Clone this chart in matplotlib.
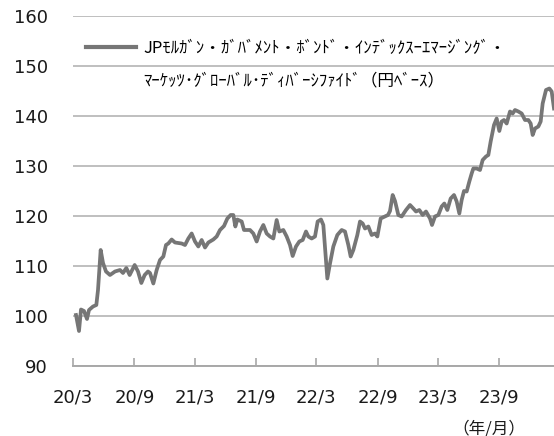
import numpy as np
import pandas as pd
import matplotlib
matplotlib.use('Agg')
import matplotlib.pyplot as plt
from matplotlib.lines import Line2D

# データ（グラフから読み取った概算値）
dates = [
    '2020-03-10', '2020-03-19', '2020-03-25', '2020-04-03', '2020-04-12', '2020-04-18',
    '2020-04-30', '2020-05-10', '2020-05-15', '2020-05-23', '2020-05-30', '2020-06-08',
    '2020-06-20', '2020-07-05', '2020-07-20', '2020-07-29', '2020-08-08', '2020-08-18',
    '2020-09-02', '2020-09-12', '2020-09-22', '2020-10-02', '2020-10-12', '2020-10-18',
    '2020-10-28', '2020-11-07', '2020-11-17', '2020-11-27', '2020-12-05', '2020-12-12',
    '2020-12-22', '2021-01-01', '2021-01-21', '2021-01-31', '2021-02-10', '2021-02-20',
    '2021-03-02', '2021-03-12', '2021-03-22', '2021-04-01', '2021-04-11', '2021-04-26',
    '2021-05-06', '2021-05-16', '2021-05-28', '2021-06-07', '2021-06-17', '2021-06-25',
    '2021-07-01', '2021-07-07', '2021-07-20', '2021-07-27', '2021-08-14', '2021-08-24',
    '2021-09-03', '2021-09-13', '2021-09-23', '2021-10-03', '2021-10-13', '2021-10-23',
    '2021-11-02', '2021-11-10', '2021-11-22', '2021-12-02', '2021-12-12', '2021-12-20',
    '2021-12-30', '2022-01-09', '2022-01-19', '2022-01-29', '2022-02-05', '2022-02-15',
    '2022-02-25', '2022-03-05', '2022-03-15', '2022-03-22', '2022-03-30', '2022-04-03',
    '2022-04-11', '2022-04-21', '2022-05-03', '2022-05-16', '2022-05-26', '2022-06-05',
    '2022-06-12', '2022-06-20', '2022-07-02', '2022-07-10', '2022-07-18', '2022-07-25',
    '2022-08-04', '2022-08-14', '2022-08-24', '2022-08-31', '2022-09-10', '2022-09-23',
    '2022-10-02', '2022-10-08', '2022-10-16', '2022-10-23', '2022-11-02', '2022-11-12',
    '2022-11-25', '2022-12-07', '2022-12-17', '2022-12-25', '2023-01-04', '2023-01-14',
    '2023-01-24', '2023-02-05', '2023-02-11', '2023-02-20', '2023-03-02', '2023-03-12',
    '2023-03-20', '2023-03-29', '2023-04-08', '2023-04-18', '2023-04-26', '2023-05-04',
    '2023-05-11', '2023-05-18', '2023-05-26', '2023-06-03', '2023-06-10', '2023-06-15',
    '2023-06-25', '2023-07-05', '2023-07-13', '2023-07-23', '2023-07-30', '2023-08-06',
    '2023-08-16', '2023-08-24', '2023-09-01', '2023-09-08', '2023-09-15', '2023-09-23',
    '2023-10-03', '2023-10-11', '2023-10-18', '2023-10-28', '2023-11-07', '2023-11-17',
    '2023-11-27', '2023-12-04', '2023-12-10', '2023-12-17', '2023-12-27', '2024-01-03',
    '2024-01-09', '2024-01-19', '2024-01-29', '2024-02-05', '2024-02-12',
]
values = [
    100.2, 97.0, 101.3, 101.0, 99.4, 101.2,
    101.9, 102.2, 105.2, 113.2, 110.6, 108.9,
    108.2, 108.9, 109.2, 108.6, 109.6, 108.2,
    110.2, 108.9, 106.6, 108.2, 108.9, 108.6,
    106.5, 109.2, 111.2, 111.9, 114.2, 114.5,
    115.3, 114.7, 114.5, 114.2, 115.5, 116.5,
    114.9, 113.9, 115.2, 113.7, 114.7, 115.3,
    115.9, 117.2, 118.0, 119.5, 120.2, 120.2,
    117.9, 119.3, 118.9, 117.2, 117.2, 116.5,
    114.9, 116.9, 118.2, 116.5, 115.9, 115.5,
    119.2, 116.9, 117.2, 115.9, 114.2, 112.0,
    113.9, 114.9, 115.2, 116.9, 115.9, 115.5,
    115.9, 118.9, 119.3, 118.2, 111.2, 107.5,
    110.5, 113.9, 116.2, 117.2, 116.9, 114.2,
    111.9, 113.2, 116.2, 118.9, 118.5, 117.5,
    117.9, 116.2, 116.5, 115.9, 119.5, 119.9,
    120.2, 121.0, 124.2, 123.0, 120.2, 119.9,
    121.2, 122.2, 121.5, 120.9, 121.2, 120.2,
    120.9, 119.5, 118.2, 119.9, 120.2, 121.9,
    122.5, 121.2, 123.5, 124.2, 122.9, 120.5,
    123.2, 125.0, 124.9, 126.9, 128.5, 129.5,
    129.5, 129.2, 131.2, 131.9, 132.2, 134.9,
    138.2, 139.5, 137.0, 138.9, 139.2, 138.5,
    140.9, 140.5, 141.2, 140.9, 140.5, 139.2,
    139.2, 138.5, 136.2, 137.5, 137.9, 138.9,
    142.5, 145.2, 145.5, 144.9, 141.5,
]
tick_dates = ['2020-03-01', '2020-09-01', '2021-03-01', '2021-09-01',
              '2022-03-01', '2022-09-01', '2023-03-01', '2023-09-01']
tick_labels = ['20/3', '20/9', '21/3', '21/9', '22/3', '22/9', '23/3', '23/9']
label_line1 = 'JPﾓﾙｶﾞﾝ・ｶﾞﾊﾞﾒﾝﾄ・ﾎﾞﾝﾄﾞ・ｲﾝﾃﾞｯｸｽｰｴﾏｰｼﾞﾝｸﾞ・'
label_line2 = 'ﾏｰｹｯﾂ･ｸﾞﾛｰﾊﾞﾙ･ﾃﾞｨﾊﾞｰｼﾌｧｲﾄﾞ（円ﾍﾞｰｽ）'

jp_font = ['Noto Sans CJK JP', 'DejaVu Sans']
line_color = '#767676'
grid_color = '#b4b4b4'

x = pd.to_datetime(dates)

fig = plt.figure(figsize=(5.54, 4.36), dpi=100)
ax = fig.add_axes([73 / 554, 70 / 436, 481 / 554, 350 / 436])

line, = ax.plot(x, values, color=line_color, lw=2.7, solid_joinstyle='round', zorder=3)

ax.set_ylim(90, 160)
ax.set_yticks(np.arange(90, 161, 10))
ax.set_xlim(pd.Timestamp('2020-03-01'), pd.Timestamp('2024-02-12'))
ax.set_xticks(pd.to_datetime(tick_dates))
ax.set_xticklabels(tick_labels)

ax.grid(axis='y', color=grid_color, lw=1.2)
ax.set_axisbelow(True)
for s in ['top', 'right', 'left']:
    ax.spines[s].set_visible(False)
ax.spines['bottom'].set_color('#a8a8a8')
ax.spines['bottom'].set_linewidth(1.4)

ax.tick_params(axis='y', length=0, pad=18, labelsize=13, labelcolor='#1a1a1a')
ax.tick_params(axis='x', direction='in', length=6, width=1.2, color='#a8a8a8',
               pad=16, labelsize=13, labelcolor='#1a1a1a')

# 凡例（2行目はハンドルなし）
blank = Line2D([], [], color='none')
leg = ax.legend([line, blank], [label_line1, label_line2], loc='upper left',
                bbox_to_anchor=(0.026, 0.932), frameon=False, handlelength=3.05,
                handletextpad=0.4, labelspacing=0.95, borderpad=0, borderaxespad=0,
                prop={'family': jp_font, 'size': 12})
leg.legend_handles[0].set_linewidth(3)

fig.text(0.948, 0.016, '（年/月）', ha='right', va='center', fontsize=12,
         family=jp_font, color='#1a1a1a')

fig.savefig('out.png', dpi=100)
